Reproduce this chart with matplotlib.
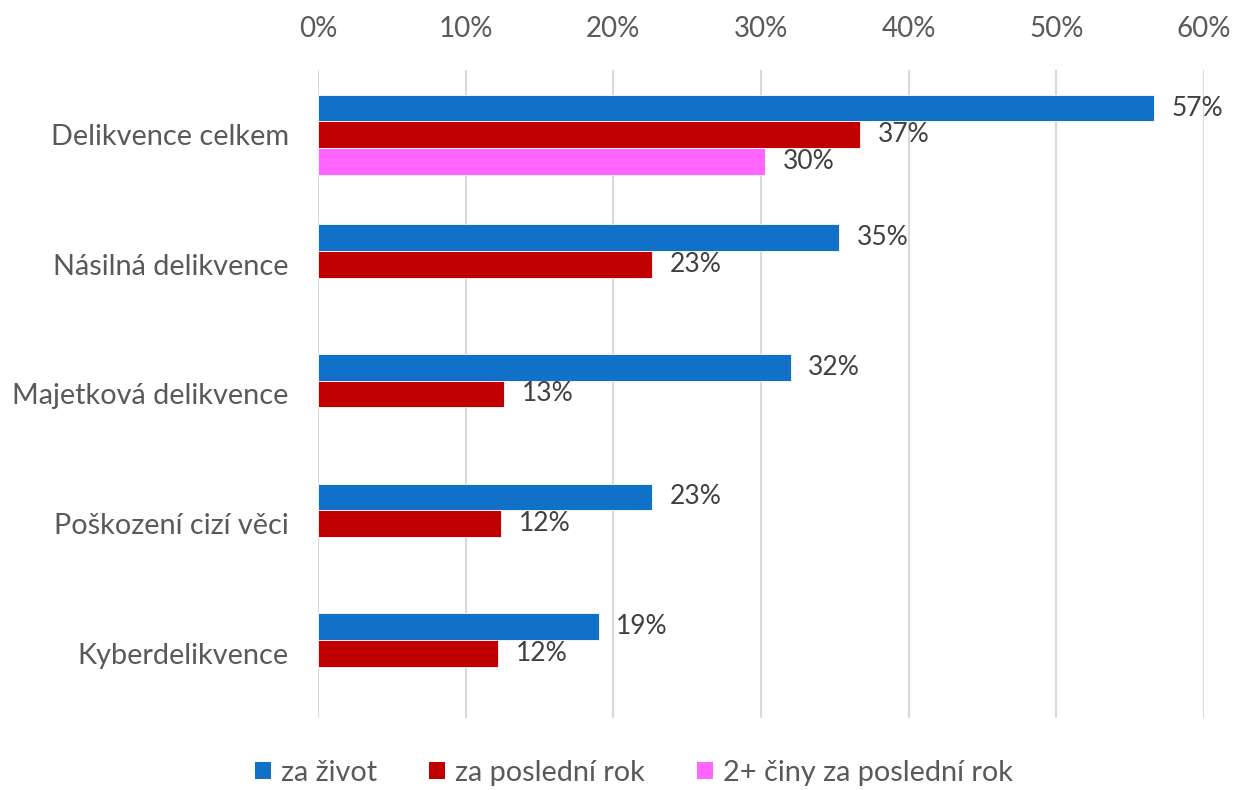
import matplotlib
matplotlib.use("Agg")
import matplotlib.pyplot as plt
from matplotlib.patches import Patch
import numpy as np

categories = ["Delikvence celkem", "Násilná delikvence", "Majetková delikvence",
              "Poškození cizí věci", "Kyberdelikvence"]
series_names = ["za život", "za poslední rok", "2+ činy za poslední rok"]
za_zivot = [56.6, 35.3, 32.0, 22.6, 19.0]
za_rok = [36.7, 22.6, 12.6, 12.4, 12.2]
dva_plus = [30.3, None, None, None, None]
x_ticks = [0, 10, 20, 30, 40, 50, 60]

colors = ["#1170C8", "#C00000", "#FF66FF"]
text_col = "#595959"
label_col = "#404040"

plt.rcParams['font.family'] = ['Lato', 'DejaVu Sans']

fig = plt.figure(figsize=(12.36, 7.90), dpi=100)
ax = fig.add_axes([318/1236, 1-718/790, (1204-318)/1236, (718-70)/790])

y = np.arange(len(categories))
h = 0.206
all_series = [za_zivot, za_rok, dva_plus]
for k, (vals, col) in enumerate(zip(all_series, colors)):
    for i, v in enumerate(vals):
        if v is None:
            continue
        yy = y[i] + (k - 1) * h
        ax.text(v + 1.2, yy, f"{round(v):d}%", va="center", ha="left",
                fontsize=19, color=label_col, zorder=4)
        ax.barh(yy, v, height=h, color=col, edgecolor="white", linewidth=0.6, zorder=3)

ax.set_xlim(0, 60)
ax.set_ylim(len(categories) - 0.5, -0.5)
ax.set_xticks(x_ticks)
ax.set_xticklabels([f"{t}%" for t in x_ticks])
ax.xaxis.tick_top()
ax.tick_params(axis="x", length=0, pad=20, labelsize=20, labelcolor=text_col)
ax.set_yticks(y)
ax.set_yticklabels(categories)
ax.tick_params(axis="y", length=0, pad=21, labelsize=20.8, labelcolor=text_col)
ax.grid(axis="x", color="#D9D9D9", linewidth=1.5, zorder=0)
for s in ["top", "right", "bottom", "left"]:
    ax.spines[s].set_visible(False)

handles = [Patch(facecolor=c, edgecolor="none") for c in colors]
fig.legend(handles, series_names, loc="center", bbox_to_anchor=(634/1236, 1-773/790),
           ncol=3, frameon=False, fontsize=20.8, labelcolor=text_col,
           handlelength=0.55, handleheight=0.55, handletextpad=0.35, columnspacing=1.8)

fig.savefig("out.png", dpi=100)
